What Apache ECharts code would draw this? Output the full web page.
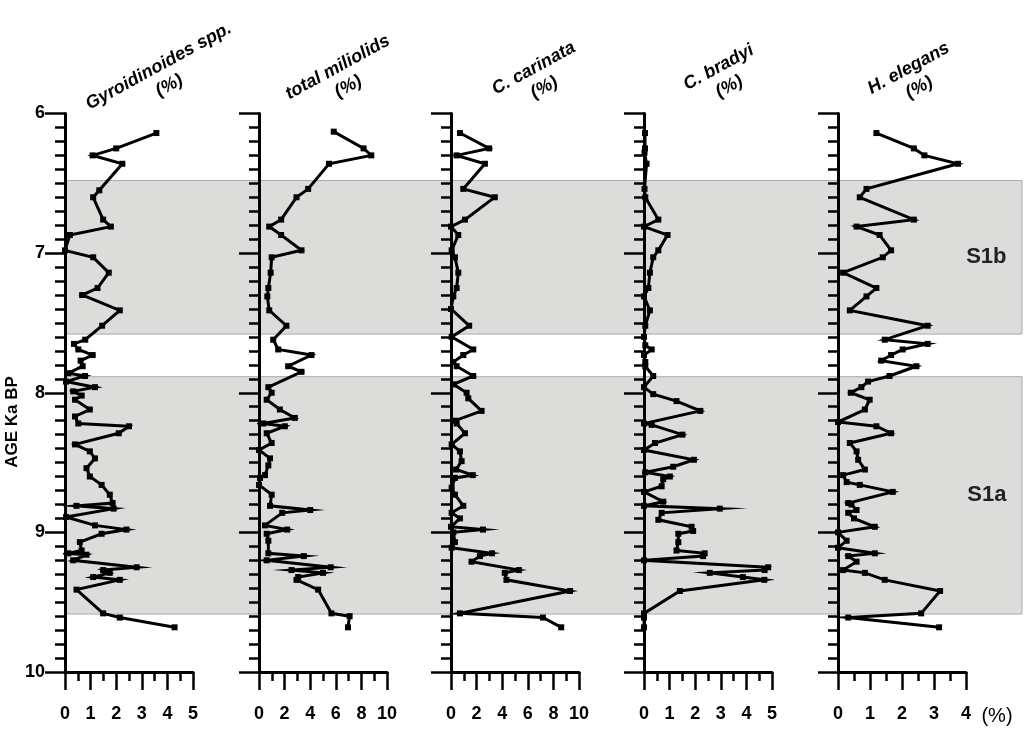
<!DOCTYPE html>
<html><head><meta charset="utf-8">
<script src="https://cdn.jsdelivr.net/npm/echarts@6/dist/echarts.min.js"></script>
<style>html,body{margin:0;padding:0;background:#fff}#c{width:1024px;height:738px}</style>
</head><body><div id="c"></div>
<script>
// ---------- DATA ----------
const panelTitles = ['Gyroidinoides spp.', 'total miliolids', 'C. carinata', 'C. bradyi', 'H. elegans'];
const xMaxes = [5, 10, 10, 5, 4];
const xIntervals = [1, 2, 2, 1, 1];
const ageMin = 6, ageMax = 10, ageInterval = 1;
const bandStarts = [6.48, 7.885];
const bandEnds = [7.58, 9.585];
const bandNames = ['S1b', 'S1a'];

const gyroAge = [6.14,6.25,6.30,6.36,6.55,6.60,6.76,6.81,6.87,6.98,7.03,7.14,7.25,7.30,7.41,7.52,7.62,7.65,7.69,7.73,7.77,7.81,7.86,7.88,7.92,7.96,7.99,8.02,8.05,8.12,8.17,8.22,8.24,8.29,8.37,8.42,8.47,8.54,8.60,8.66,8.73,8.79,8.81,8.83,8.89,8.95,8.98,9.01,9.07,9.13,9.15,9.16,9.20,9.25,9.27,9.29,9.32,9.34,9.41,9.58,9.61,9.68];
const gyroVal = [3.57,2.00,1.08,2.24,1.34,1.10,1.49,1.79,0.19,0.00,1.10,1.71,1.27,0.67,2.14,1.45,0.79,0.35,0.52,1.08,0.61,0.69,0.13,0.78,0.04,1.17,0.32,0.65,0.39,0.97,0.39,0.52,2.50,2.10,0.39,0.97,1.17,0.84,0.97,1.43,1.75,1.86,0.45,1.90,0.04,1.17,2.40,1.43,0.58,0.65,0.13,0.84,0.32,2.80,1.49,1.75,1.10,2.14,0.45,1.49,2.14,4.28];

const milAge = [6.13,6.25,6.30,6.36,6.54,6.60,6.76,6.81,6.87,6.98,7.03,7.14,7.25,7.31,7.41,7.52,7.62,7.69,7.73,7.81,7.85,7.96,8.00,8.05,8.12,8.18,8.22,8.24,8.29,8.36,8.41,8.47,8.52,8.59,8.61,8.66,8.73,8.81,8.84,8.86,8.95,8.98,9.01,9.06,9.15,9.17,9.20,9.25,9.27,9.29,9.32,9.34,9.41,9.58,9.60,9.68];
const milVal = [5.84,8.17,8.77,5.47,3.84,2.93,1.73,0.80,1.73,3.32,0.99,0.91,0.73,0.65,0.80,2.14,1.11,1.50,4.10,2.28,3.32,0.73,0.99,0.60,1.63,2.80,0.34,2.02,0.60,0.99,0.00,0.86,0.73,0.47,0.08,0.00,0.99,0.86,4.00,1.81,0.47,2.20,0.60,0.73,0.73,3.50,0.60,5.60,2.54,5.00,3.06,2.93,4.62,5.66,7.08,6.95];

const carAge = [6.14,6.25,6.30,6.36,6.54,6.60,6.76,6.81,6.87,6.98,7.03,7.14,7.25,7.31,7.40,7.52,7.60,7.69,7.73,7.78,7.81,7.88,7.94,8.00,8.04,8.13,8.20,8.22,8.29,8.37,8.42,8.49,8.55,8.59,8.61,8.68,8.73,8.81,8.86,8.90,8.96,8.98,9.00,9.07,9.11,9.15,9.17,9.21,9.27,9.29,9.34,9.42,9.58,9.61,9.68];
const carVal = [0.70,2.98,0.44,2.65,0.96,3.42,1.09,0.00,0.57,0.05,0.31,0.57,0.44,0.18,0.00,1.42,0.05,1.74,0.96,0.18,0.44,1.74,0.18,1.22,1.35,2.39,0.31,0.44,1.09,0.05,0.70,0.83,0.40,1.70,0.31,0.05,0.31,0.96,0.05,0.70,0.00,2.50,0.18,0.31,0.05,3.20,2.26,1.61,5.30,4.20,4.33,9.30,0.70,7.18,8.61];

const braAge = [6.14,6.25,6.28,6.36,6.54,6.60,6.76,6.81,6.87,6.98,7.03,7.14,7.25,7.31,7.41,7.52,7.60,7.66,7.69,7.73,7.78,7.81,7.88,7.96,8.01,8.06,8.13,8.22,8.23,8.30,8.36,8.41,8.48,8.53,8.57,8.60,8.62,8.67,8.71,8.78,8.81,8.83,8.86,8.91,8.96,8.99,9.01,9.07,9.13,9.15,9.17,9.20,9.25,9.27,9.29,9.32,9.34,9.42,9.58,9.61,9.68];
const braVal = [0.04,0.04,0.02,0.10,0.02,0.05,0.56,0.00,0.92,0.56,0.36,0.23,0.17,0.00,0.23,0.05,0.00,0.05,0.30,0.00,0.05,0.05,0.36,0.00,0.36,1.27,2.20,0.00,0.30,1.50,0.43,0.00,1.95,1.14,0.05,1.01,0.75,0.69,0.00,0.75,0.00,2.96,0.69,0.56,1.86,1.92,1.34,1.34,1.27,2.37,2.31,0.00,4.85,4.71,2.57,3.86,4.70,1.40,0.00,0.00,0.00];

const eleAge = [6.14,6.25,6.30,6.36,6.54,6.60,6.76,6.81,6.87,6.98,7.03,7.14,7.25,7.31,7.41,7.52,7.62,7.65,7.69,7.73,7.77,7.81,7.88,7.92,7.96,8.00,8.05,8.12,8.21,8.24,8.29,8.36,8.42,8.48,8.55,8.59,8.64,8.66,8.71,8.79,8.80,8.84,8.86,8.90,8.96,9.00,9.06,9.11,9.15,9.17,9.21,9.27,9.29,9.34,9.42,9.58,9.61,9.68];
const eleVal = [1.20,2.37,2.70,3.75,0.89,0.68,2.37,0.58,1.30,1.66,1.40,0.16,1.20,0.89,0.37,2.80,1.46,2.80,2.02,1.66,1.35,2.45,1.61,0.94,0.73,0.40,0.99,0.84,0.00,1.20,1.66,0.37,0.58,0.63,0.84,0.16,0.27,0.68,1.71,0.32,0.42,0.58,0.32,0.50,1.15,0.00,0.27,0.00,1.15,0.32,0.58,0.16,0.84,1.46,3.19,2.60,0.32,3.16];

const seriesAges = [gyroAge, milAge, carAge, braAge, eleAge];
const seriesVals = [gyroVal, milVal, carVal, braVal, eleVal];

// ---------- LAYOUT / STYLE ----------
const LEFTS = [65, 259, 451, 644, 838];
const PW = 128, TOP = 113.5, PH = 558.5;
const SANS = "'Liberation Sans',Arial,sans-serif";
const titlePos = [[164,76],[343,77],[539,78],[724,77],[914,78]];

const grids = [], xAxes = [], yAxes = [], series = [];
for (let i = 0; i < 5; i++) {
  grids.push({left: LEFTS[i], top: TOP, width: PW, height: PH, containLabel: false});
  xAxes.push({
    gridIndex: i, type: 'value', min: 0, max: xMaxes[i], interval: xIntervals[i], position: 'bottom', z: 5,
    axisLine: {show: true, onZero: false, lineStyle: {color: '#000', width: 3}},
    axisTick: {show: true, length: 18, lineStyle: {color: '#000', width: 2.5}},
    minorTick: {show: true, splitNumber: 2, length: 9, lineStyle: {color: '#000', width: 2.5}},
    splitLine: {show: false}, minorSplitLine: {show: false},
    axisLabel: {color: '#000', fontFamily: SANS, fontWeight: 'bold', fontSize: 18, margin: 33, showMinLabel: true, showMaxLabel: true}
  });
  yAxes.push({
    gridIndex: i, type: 'value', inverse: true, min: ageMin, max: ageMax, interval: ageInterval, z: 5,
    axisLine: {show: true, onZero: false, lineStyle: {color: '#000', width: 3}},
    axisTick: {show: true, length: 20, lineStyle: {color: '#000', width: 2.5}},
    minorTick: {show: true, splitNumber: 10, length: 10, lineStyle: {color: '#000', width: 2.5}},
    splitLine: {show: false}, minorSplitLine: {show: false},
    axisLabel: {show: i === 0, color: '#000', fontFamily: SANS, fontWeight: 'bold', fontSize: 18, margin: 20}
  });
  series.push({
    type: 'line', xAxisIndex: i, yAxisIndex: i, z: 10, clip: false, silent: true, animation: false,
    data: seriesVals[i].map((v, k) => [v, seriesAges[i][k]]),
    symbol: 'rect', symbolSize: 6, showSymbol: true, showAllSymbol: true,
    itemStyle: {color: '#000'},
    lineStyle: {color: '#000', width: 3, join: 'miter', miterLimit: 22}
  });
}
// background band grid (same age scale, full width)
grids.push({left: 65, right: 2, top: TOP, height: PH});
xAxes.push({gridIndex: 5, type: 'value', min: 0, max: 1, show: false});
yAxes.push({gridIndex: 5, type: 'value', inverse: true, min: ageMin, max: ageMax, show: false});
series.push({
  type: 'line', xAxisIndex: 5, yAxisIndex: 5, z: 1, silent: true, animation: false,
  data: [[0, ageMin]], showSymbol: false, lineStyle: {width: 0, opacity: 0},
  markArea: {
    silent: true, animation: false,
    itemStyle: {color: '#dcdcda', borderColor: '#ababab', borderWidth: 1},
    label: {show: true, position: 'insideRight', distance: 16, color: '#222', fontFamily: SANS, fontWeight: 'bold', fontSize: 22},
    data: bandStarts.map((s, k) => [{yAxis: s, name: bandNames[k]}, {yAxis: bandEnds[k]}])
  }
});

const graphics = panelTitles.map((t, i) => ({
  type: 'text', x: titlePos[i][0], y: titlePos[i][1], rotation: 0.5, z: 20,
  style: {text: t + '\n(%)', fontFamily: SANS, fontStyle: 'italic', fontWeight: 'bold', fontSize: 18, lineHeight: 22, fill: '#000', align: 'center', verticalAlign: 'middle'}
}));
graphics.push({type: 'text', x: 12, y: 422, rotation: Math.PI / 2, z: 20,
  style: {text: 'AGE Ka BP', fontFamily: SANS, fontWeight: 'bold', fontSize: 17, fill: '#000', align: 'center', verticalAlign: 'middle'}});
graphics.push({type: 'text', x: 997, y: 716, z: 20,
  style: {text: '(%)', fontFamily: SANS, fontSize: 20, fill: '#000', align: 'center', verticalAlign: 'middle'}});

const chart = echarts.init(document.getElementById('c'), null, {renderer: 'canvas'});
chart.setOption({
  animation: false, backgroundColor: '#fff',
  grid: grids, xAxis: xAxes, yAxis: yAxes, series: series, graphic: graphics
});
</script></body></html>
